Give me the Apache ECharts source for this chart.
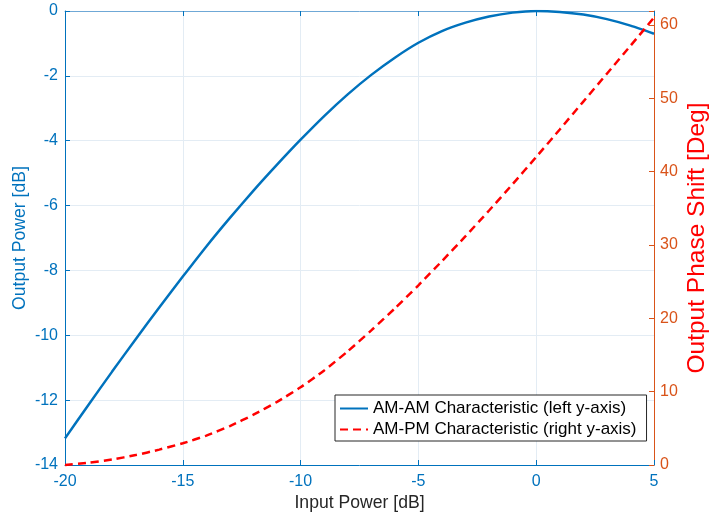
<!DOCTYPE html>
<html>
<head>
<meta charset="utf-8">
<script src="https://cdn.jsdelivr.net/npm/echarts@6/dist/echarts.min.js"></script>
<style>html,body{margin:0;padding:0;background:#fff}#c{width:710px;height:519px}</style>
</head>
<body>
<div id="c"></div>
<script>
const inputPower = [-20,-19,-18,-17,-16,-15,-14,-13,-12,-11,-10,-9,-8,-7,-6,-5,-4,-3,-2,-1,0,1,2,3,4,5];
const amam = [-13.18,-12.14,-11.12,-10.12,-9.14,-8.19,-7.26,-6.38,-5.54,-4.74,-3.97,-3.24,-2.57,-1.97,-1.44,-0.98,-0.62,-0.36,-0.17,-0.05,0,-0.03,-0.11,-0.25,-0.45,-0.70];
const ampm = [0,0.3,0.75,1.35,2.1,2.96,4.01,5.31,6.86,8.61,10.6,12.9,15.5,18.35,21.35,24.5,27.8,31.2,34.7,38.3,42.0,45.75,49.55,53.35,57.15,61.0];
const xTicks = [-20,-15,-10,-5,0,5];
const leftTicks = [-14,-12,-10,-8,-6,-4,-2,0];
const rightTicks = [0,10,20,30,40,50,60];
const rightMax = 61.9;
const seriesNames = ['AM-AM Characteristic (left y-axis)','AM-PM Characteristic (right y-axis)'];

const BLUE = '#0072BD', ORANGE = '#D95319', RED = '#FF0000', FONT = 'Liberation Sans, Arial, sans-serif';
const gridColor = '#E3ECF4';

const chart = echarts.init(document.getElementById('c'));
chart.setOption({
  animation: false,
  textStyle: {fontFamily: FONT},
  grid: {left: 65, right: 56, top: 11, bottom: 54, containLabel: false, outerBoundsMode: 'none'},
  legend: {
    orient: 'vertical', left: 335, top: 395,
    backgroundColor: '#fff', borderColor: '#262626', borderWidth: 1,
    padding: [5, 10, 3, 4], itemGap: 4, itemWidth: 28, itemHeight: 14,
    textStyle: {fontSize: 17, color: '#000', fontFamily: FONT},
    itemStyle: {opacity: 0},
    data: seriesNames.map(n => ({name: n, itemStyle: {opacity: 0}}))
  },
  xAxis: [{
    type: 'value', min: xTicks[0], max: xTicks[xTicks.length-1], interval: 5,
    name: 'Input Power [dB]', nameLocation: 'middle', nameGap: 29, nameMoveOverlap: false,
    nameTextStyle: {color: '#262626', fontSize: 17.6, fontFamily: FONT},
    axisLine: {show: true, onZero: false, lineStyle: {color: BLUE, width: 1}},
    axisTick: {show: true, inside: true, length: 5, lineStyle: {color: BLUE}},
    axisLabel: {color: BLUE, fontSize: 16, margin: 9, fontFamily: FONT},
    splitLine: {show: true, lineStyle: {color: gridColor, width: 1}}
  }, {
    type: 'value', position: 'top', min: xTicks[0], max: xTicks[xTicks.length-1], interval: 5,
    axisLine: {show: true, onZero: false, lineStyle: {color: '#6FA8D6', width: 1}},
    axisTick: {show: true, inside: true, length: 5, lineStyle: {color: BLUE}},
    axisLabel: {show: false}, splitLine: {show: false}
  }],
  yAxis: [{
    type: 'value', position: 'left', min: leftTicks[0], max: leftTicks[leftTicks.length-1], interval: 2,
    name: 'Output Power [dB]', nameLocation: 'middle', nameGap: 36, nameRotate: 90, nameMoveOverlap: false,
    nameTextStyle: {color: BLUE, fontSize: 17.6, fontFamily: FONT},
    axisLine: {show: true, onZero: false, lineStyle: {color: BLUE, width: 1}},
    axisTick: {show: true, inside: true, length: 5, lineStyle: {color: BLUE}},
    axisLabel: {color: BLUE, fontSize: 16, margin: 7, fontFamily: FONT},
    splitLine: {show: true, lineStyle: {color: gridColor, width: 1}}
  }, {
    type: 'value', position: 'right', min: rightTicks[0], max: rightMax, interval: 10,
    name: 'Output Phase Shift [Deg]', nameLocation: 'middle', nameGap: 31, nameRotate: 90, nameMoveOverlap: false,
    nameTextStyle: {color: RED, fontSize: 24.5, fontFamily: FONT},
    axisLine: {show: true, onZero: false, lineStyle: {color: ORANGE, width: 1}},
    axisTick: {show: true, inside: true, length: 5, lineStyle: {color: ORANGE}},
    axisLabel: {color: ORANGE, fontSize: 16, margin: 6, fontFamily: FONT,
      formatter: v => (rightTicks.indexOf(v) >= 0 ? String(v) : '')},
    splitLine: {show: false}
  }],
  series: [{
    name: seriesNames[0], type: 'line', xAxisIndex: 0, yAxisIndex: 0,
    data: inputPower.map((x, i) => [x, amam[i]]),
    smooth: 0.2, symbol: 'none', clip: true,
    lineStyle: {color: BLUE, width: 2.5}, itemStyle: {color: BLUE}
  }, {
    name: seriesNames[1], type: 'line', xAxisIndex: 0, yAxisIndex: 1,
    data: inputPower.map((x, i) => [x, ampm[i]]),
    smooth: 0.2, symbol: 'none', clip: false,
    lineStyle: {color: RED, width: 2.5, type: [8, 5]}, itemStyle: {color: RED}
  }]
});
</script>
</body>
</html>
